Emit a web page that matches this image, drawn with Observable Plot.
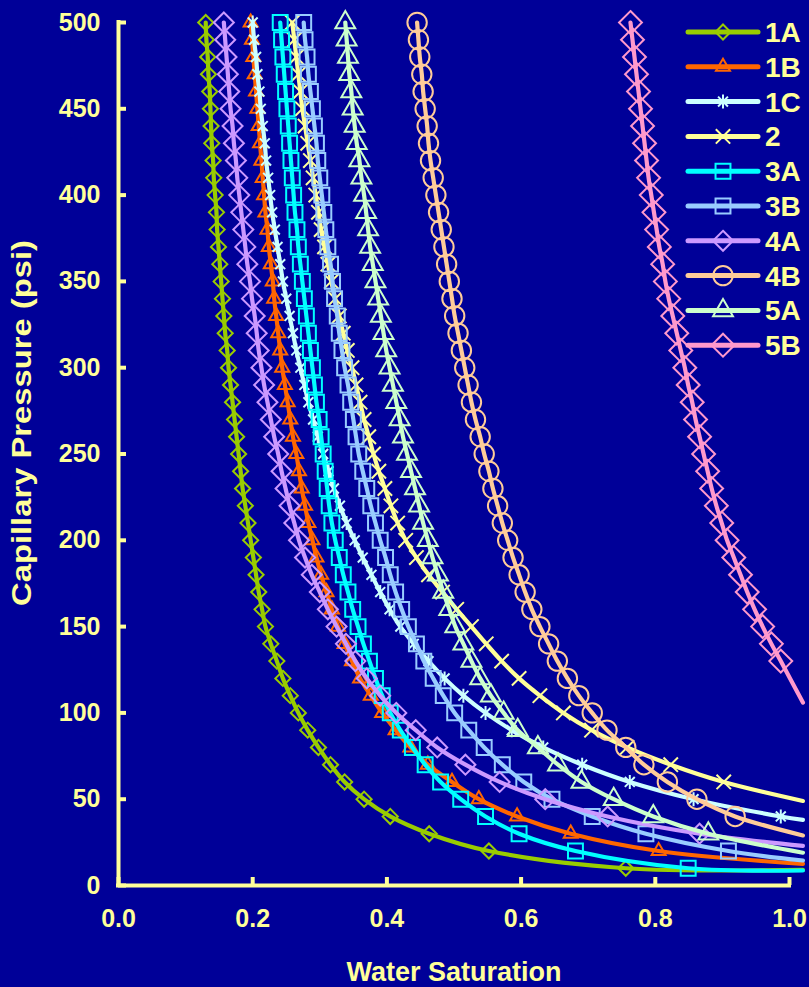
<!DOCTYPE html>
<html>
<head>
<meta charset="utf-8">
<script src="https://cdn.jsdelivr.net/npm/d3@7"></script>
<script src="https://cdn.jsdelivr.net/npm/@observablehq/plot@0.6"></script>
<style>
  html, body { margin: 0; padding: 0; background: #000098; }
  #wrap { position: relative; width: 809px; height: 987px; overflow: hidden; }
  #legend { position: absolute; left: 0; top: 0; pointer-events: none; }
</style>
</head>
<body>
<div id="wrap"></div>
<script>
// Capillary pressure (psi) levels at which each sample was measured
const pcLevels = [500,490,480,470,460,450,440,430,420,410,
                  400,390,380,370,360,350,340,330,320,310,
                  300,290,280,270,260,250,240,230,220,210,
                  200,190,180,170,160,150,140,130,120,110,
                  100,90,80,70,60,50,40,30,20,10];

// Water saturation at each pressure level (null = beyond Sw = 1.0)
const sw1A = [0.130,0.131,0.133,0.134,0.136,0.137,0.138,0.139,0.141,0.142,
              0.144,0.146,0.147,0.149,0.151,0.153,0.155,0.157,0.159,0.162,
              0.164,0.167,0.170,0.173,0.176,0.179,0.182,0.185,0.189,0.193,
              0.197,0.201,0.205,0.209,0.214,0.219,0.227,0.236,0.245,0.256,
              0.268,0.282,0.298,0.316,0.337,0.366,0.405,0.463,0.552,0.756];
const sw1B = [0.197,0.199,0.201,0.203,0.205,0.207,0.209,0.211,0.213,0.215,
              0.217,0.219,0.222,0.224,0.227,0.230,0.232,0.235,0.238,0.241,
              0.244,0.248,0.252,0.256,0.260,0.265,0.269,0.273,0.278,0.283,
              0.289,0.295,0.302,0.310,0.318,0.327,0.337,0.348,0.360,0.376,
              0.393,0.413,0.435,0.461,0.497,0.537,0.594,0.674,0.805,null];
const sw1C = [0.200,0.202,0.205,0.207,0.210,0.212,0.215,0.218,0.220,0.223,
              0.226,0.229,0.233,0.237,0.241,0.245,0.250,0.255,0.260,0.265,
              0.271,0.277,0.283,0.290,0.297,0.305,0.313,0.321,0.330,0.340,
              0.352,0.364,0.377,0.390,0.404,0.420,0.440,0.462,0.486,0.514,
              0.547,0.586,0.633,0.691,0.762,0.857,0.987,null,null,null];
const sw2  = [0.259,0.262,0.265,0.268,0.271,0.274,0.278,0.282,0.286,0.290,
              0.294,0.298,0.302,0.307,0.312,0.317,0.323,0.329,0.335,0.341,
              0.348,0.354,0.360,0.366,0.373,0.380,0.388,0.397,0.406,0.416,
              0.428,0.444,0.462,0.483,0.504,0.526,0.548,0.571,0.597,0.628,
              0.663,0.705,0.758,0.823,0.902,null,null,null,null,null];
const sw3A = [0.241,0.243,0.245,0.247,0.249,0.251,0.253,0.255,0.257,0.259,
              0.261,0.263,0.266,0.268,0.271,0.274,0.277,0.280,0.283,0.286,
              0.289,0.292,0.295,0.299,0.302,0.305,0.308,0.311,0.314,0.318,
              0.323,0.329,0.335,0.342,0.349,0.357,0.365,0.374,0.383,0.393,
              0.405,0.420,0.438,0.457,0.480,0.510,0.547,0.597,0.681,0.849];
const sw3B = [0.276,0.278,0.281,0.283,0.286,0.289,0.292,0.295,0.297,0.300,
              0.303,0.306,0.309,0.312,0.316,0.319,0.322,0.326,0.329,0.333,
              0.337,0.342,0.346,0.350,0.354,0.358,0.364,0.370,0.376,0.383,
              0.390,0.398,0.405,0.413,0.422,0.432,0.444,0.455,0.469,0.484,
              0.501,0.522,0.545,0.572,0.604,0.646,0.706,0.786,0.909,null];
const sw4A = [0.157,0.159,0.161,0.163,0.165,0.167,0.170,0.172,0.175,0.177,
              0.180,0.183,0.186,0.189,0.192,0.196,0.199,0.203,0.206,0.209,
              0.213,0.217,0.222,0.227,0.232,0.238,0.243,0.249,0.255,0.262,
              0.269,0.278,0.288,0.300,0.312,0.325,0.339,0.353,0.370,0.390,
              0.414,0.443,0.475,0.517,0.568,0.636,0.729,0.866,null,null];
const sw4B = [0.445,0.447,0.449,0.452,0.454,0.457,0.460,0.462,0.465,0.469,
              0.473,0.477,0.481,0.485,0.489,0.493,0.497,0.501,0.506,0.511,
              0.516,0.521,0.526,0.532,0.539,0.545,0.552,0.558,0.565,0.572,
              0.580,0.588,0.597,0.606,0.616,0.628,0.641,0.654,0.669,0.686,
              0.706,0.728,0.756,0.783,0.818,0.862,0.919,null,null,null];
const sw5A = [0.338,0.340,0.342,0.344,0.347,0.349,0.352,0.355,0.359,0.362,
              0.366,0.369,0.372,0.375,0.379,0.383,0.387,0.391,0.395,0.399,
              0.404,0.409,0.414,0.419,0.424,0.430,0.436,0.442,0.448,0.454,
              0.461,0.468,0.476,0.484,0.493,0.502,0.514,0.526,0.539,0.555,
              0.574,0.595,0.625,0.655,0.690,0.738,0.797,0.879,null,null];
const sw5B = [0.763,0.766,0.769,0.772,0.775,0.778,0.781,0.784,0.787,0.790,
              0.794,0.798,0.802,0.806,0.811,0.815,0.820,0.826,0.832,0.838,
              0.844,0.849,0.855,0.860,0.866,0.872,0.878,0.884,0.891,0.899,
              0.907,0.917,0.927,0.937,0.948,0.960,0.973,0.987,null,null,
              null,null,null,null,null,null,null,null,null,null];

// Where each curve runs off the right edge of the plot
const tailSw = 1.02;
const tailPc = [9, 12.5, 38, 49, 8.7, 14.5, 23, 29, 19, 106];

const seriesNames   = ["1A", "1B", "1C", "2", "3A", "3B", "4A", "4B", "5A", "5B"];
const seriesValues  = [sw1A, sw1B, sw1C, sw2, sw3A, sw3B, sw4A, sw4B, sw5A, sw5B];
const seriesColors  = ["#99cc00", "#ff6600", "#ccffff", "#ffff99", "#00ffff",
                       "#99ccff", "#cc99ff", "#ffcc99", "#ccffcc", "#ff99cc"];
const seriesSymbols = ["diamond2", "triangle2", "star6", "times", "square2",
                       "square2", "diamond2", "circle", "triangle2", "diamond2"];
const markerR       = [6.8, 6.7, 7, 6.6, 9.5, 9.5, 9, 9.7, 9.5, 10.3];

const xTicks = [0, 0.2, 0.4, 0.6, 0.8, 1.0];
const yTicks = [0, 50, 100, 150, 200, 250, 300, 350, 400, 450, 500];

const axisColor = "#ffff99";
const font = "'Liberation Sans', Arial, sans-serif";

// Six-spoke marker: an upright stroke crossed by an ×
const star6 = {
  draw(context, size) {
    const r = Math.sqrt(size / Math.PI);
    const d = r * Math.SQRT1_2;
    context.moveTo(0, -r); context.lineTo(0, r);
    context.moveTo(-d, -d); context.lineTo(d, d);
    context.moveTo(-d, d); context.lineTo(d, -d);
  }
};
const symbolTypes = {
  diamond2: d3.symbolDiamond2, triangle2: d3.symbolTriangle2, star6,
  times: d3.symbolTimes, square2: d3.symbolSquare2, circle: d3.symbolCircle
};

const series = seriesNames.map((name, i) => {
  const points = [];
  pcLevels.forEach((pc, j) => {
    const sw = seriesValues[i][j];
    if (sw != null) points.push({name, sw, pc});
  });
  return {name, points, line: [...points, {name, sw: tailSw, pc: tailPc[i]}]};
});

const marks = [];
series.forEach((s, i) => {
  marks.push(Plot.line(s.line, {
    x: "sw", y: "pc", stroke: seriesColors[i], strokeWidth: 4.2,
    curve: "catmull-rom", strokeLinecap: "round"
  }));
  marks.push(Plot.dot(s.points, {
    x: "sw", y: "pc", symbol: symbolTypes[seriesSymbols[i]], r: markerR[i],
    stroke: seriesColors[i], strokeWidth: 2, fill: "none"
  }));
});

const chart = Plot.plot({
  width: 809,
  height: 987,
  marginLeft: 118,
  marginRight: 20,
  marginTop: 22,
  marginBottom: 102,
  style: {background: "transparent", color: axisColor, fontFamily: font, overflow: "visible"},
  x: {domain: [0, 1]},
  y: {domain: [0, 500]},
  marks: [
    ...marks,
    Plot.ruleY([0], {stroke: axisColor, strokeWidth: 4, strokeLinecap: "square"}),
    Plot.ruleX([0], {stroke: axisColor, strokeWidth: 4, strokeLinecap: "square"}),
    Plot.axisY(yTicks, {
      anchor: "left", label: null, tickSize: 8, dx: 8, tickPadding: 18, strokeWidth: 4,
      fontSize: 25, fontWeight: "bold", tickFormat: d => String(d)
    }),
    Plot.axisX(xTicks, {
      anchor: "bottom", label: null, tickSize: 8, dy: -8, tickPadding: 24, strokeWidth: 4,
      fontSize: 25, fontWeight: "bold", tickFormat: d3.format(".1f")
    }),
    Plot.text(["Water Saturation"], {
      frameAnchor: "bottom", dy: 87, fontSize: 27, fontWeight: "bold",
      fill: axisColor, lineAnchor: "middle", textAnchor: "middle"
    }),
    Plot.text(["Capillary Pressure (psi)"], {
      frameAnchor: "left", dx: -96, dy: -31, rotate: -90, fontSize: 27, fontWeight: "bold",
      fill: axisColor, lineAnchor: "middle", textAnchor: "middle", className: "y-title"
    })
  ]
});

const wrap = document.getElementById("wrap");
wrap.appendChild(chart);

// The vertical title is set a little wider than the font's natural length
d3.select(chart).selectAll(".y-title text")
  .attr("textLength", 366).attr("lengthAdjust", "spacingAndGlyphs");

// Legend: line sample with marker, and series name
const legend = d3.select(wrap).append("svg")
  .attr("id", "legend").attr("width", 809).attr("height", 987);
const legendX = 688, legendW = 70, legendY = 32, legendStep = 34.8;
seriesNames.forEach((name, i) => {
  const y = legendY + i * legendStep;
  const g = legend.append("g");
  g.append("line")
    .attr("x1", legendX).attr("x2", legendX + legendW)
    .attr("y1", y).attr("y2", y)
    .attr("stroke", seriesColors[i]).attr("stroke-width", 5).attr("stroke-linecap", "round");
  g.append("path")
    .attr("transform", `translate(${legendX + legendW / 2},${y})`)
    .attr("d", d3.symbol(symbolTypes[seriesSymbols[i]], Math.PI * markerR[i] ** 2)())
    .attr("fill", "none").attr("stroke", seriesColors[i]).attr("stroke-width", 2);
  g.append("text")
    .attr("x", legendX + legendW + 7).attr("y", y).attr("dy", "0.36em")
    .attr("fill", axisColor).attr("font-family", font).attr("font-weight", "bold")
    .attr("font-size", 28).text(name);
});
</script>
</body>
</html>
